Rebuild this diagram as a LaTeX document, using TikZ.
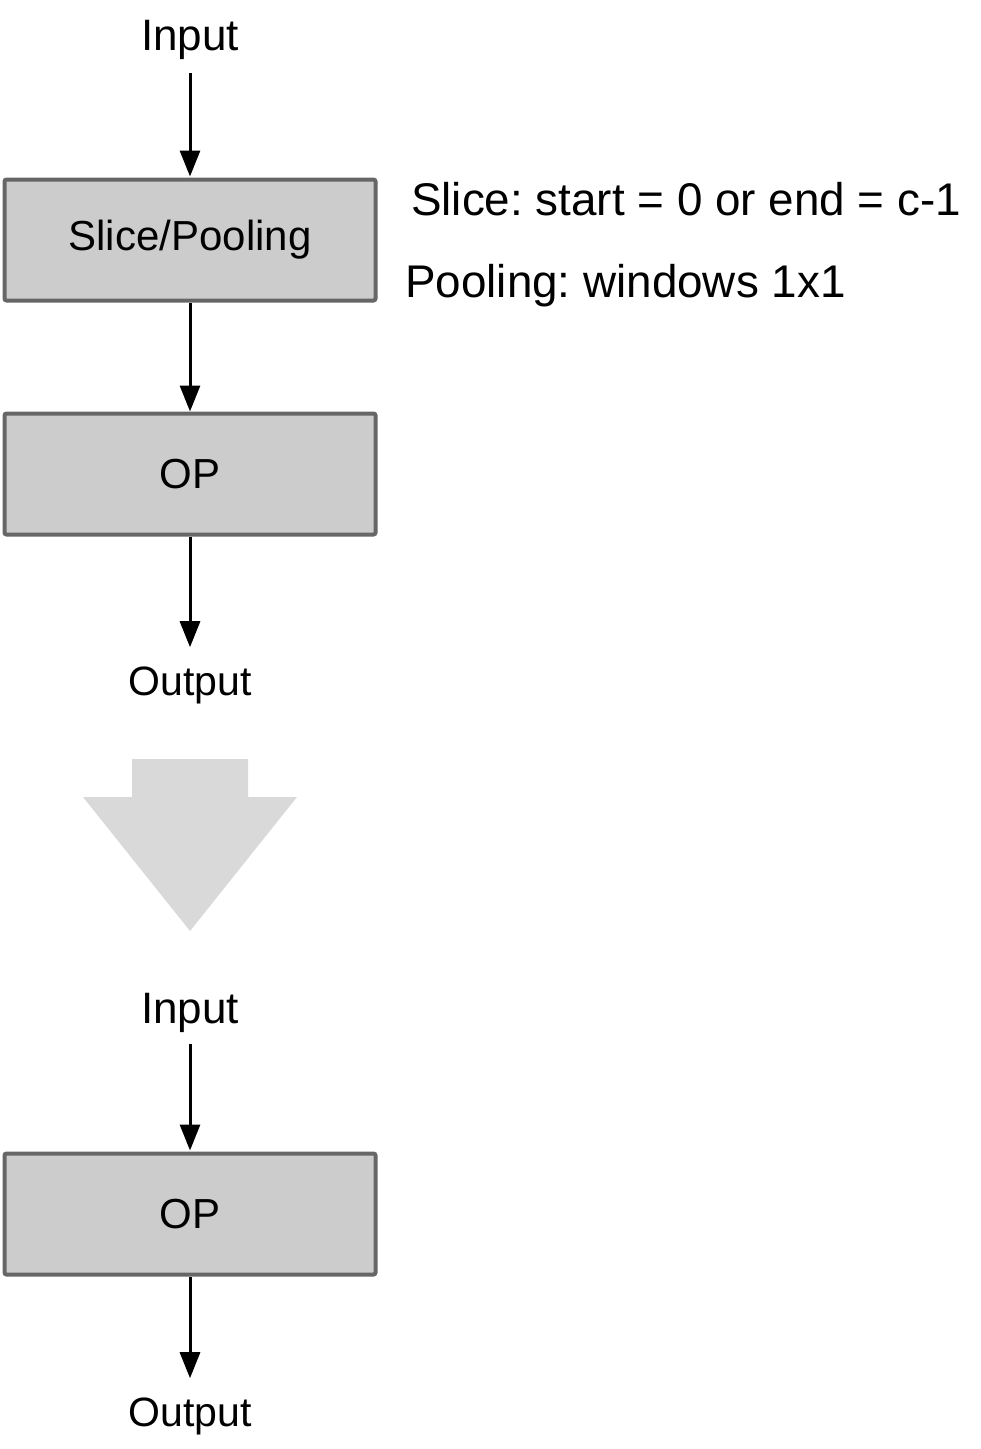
\documentclass[tikz,border=0pt]{standalone}
\usepackage{fontspec}
\setmainfont{Liberation Sans}
\usetikzlibrary{arrows.meta}
\definecolor{boxfill}{HTML}{CCCCCC}
\definecolor{boxline}{HTML}{666666}
\definecolor{bigarrow}{HTML}{D9D9D9}
\frenchspacing
\begin{document}
\begin{tikzpicture}[x=1pt,y=-1pt,
  opbox/.style={draw=boxline,fill=boxfill,line width=4pt,rounded corners=2pt,
    minimum width=371pt,minimum height=121pt,inner sep=0pt,font=\fontsize{42}{48}\selectfont},
  lbl/.style={inner sep=0pt,font=\fontsize{44}{52}\selectfont},
  lblsmall/.style={inner sep=0pt,font=\fontsize{41}{48}\selectfont},
  note/.style={inner sep=0pt,anchor=west,font=\fontsize{45.8}{54}\selectfont},
  flow/.style={line width=3pt,-{Triangle[length=26pt,width=20pt]}}]
\useasboundingbox (0,0) rectangle (981,1449);
% top part
\node[lbl] (in1) at (190,40) {Input};
\node[opbox] (sp) at (190,240) {Slice/Pooling};
\node[opbox] (op1) at (190,474) {OP};
\node[lblsmall] (out1) at (190,685) {Output};
\node[note] (n1) at (411,199) {Slice: start = 0 or end = c-1};
\node[note] (n2) at (405,286) {Pooling: windows 1x1};
\draw[flow,shorten <=13pt,shorten >=1pt] (in1.south) -- (sp.north);
\draw[flow] (sp.south) -- (op1.north);
\draw[flow,shorten >=19pt] (op1.south) -- (out1.north);
% big transform arrow
\fill[bigarrow] (132,759) -- (248,759) -- (248,797) -- (297,797) -- (190,931) -- (83,797) -- (132,797) -- cycle;
% bottom part
\node[lbl] (in2) at (190,1013) {Input};
\node[opbox] (op2) at (190,1214) {OP};
\node[lblsmall] (out2) at (190,1416) {Output};
\draw[flow,shorten <=11pt,shorten >=1pt] (in2.south) -- (op2.north);
\draw[flow,shorten >=19pt] (op2.south) -- (out2.north);
\end{tikzpicture}
\end{document}
